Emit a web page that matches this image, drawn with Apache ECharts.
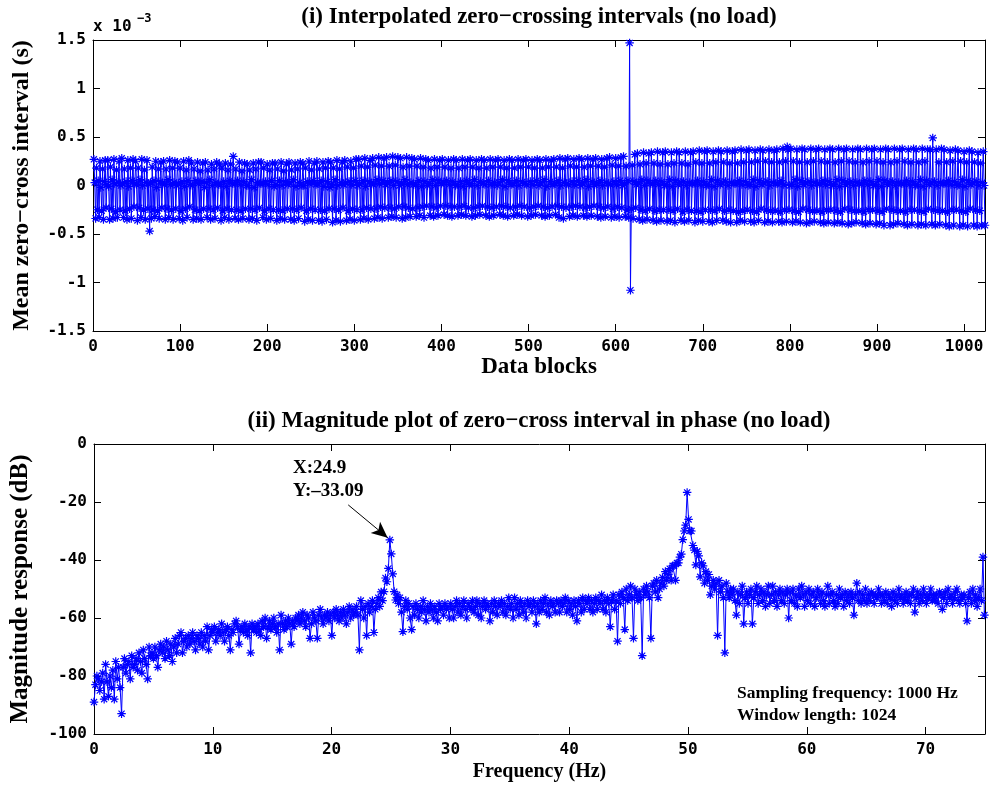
<!DOCTYPE html>
<html><head><meta charset="utf-8">
<script src="https://cdn.jsdelivr.net/npm/echarts@6/dist/echarts.min.js"></script>
<style>html,body{margin:0;padding:0;background:#fff}#c{width:991px;height:787px}</style>
</head><body><div id="c"></div>
<script>
// ---- (i) mean zero-cross interval per data block, in units of 1e-3 s ----
const zeroCrossMs = [
.27,.03,-.34,.18,-.25,.05,-.33,.25,-.02,-.26,.17,-.35,.04,.26,-.23,.01,
.26,-.01,-.35,.19,-.24,.06,-.34,.27,.02,-.27,.16,-.33,.03,.25,-.25,.00,
.28,.02,-.33,.17,-.26,.04,-.35,.26,-.01,-.24,.18,-.34,.05,.27,-.22,.02,
.25,.01,-.36,.18,-.23,.06,-.33,.27,.00,-.25,.16,-.35,.03,.26,-.24,.02,
-.47,.03,-.34,.19,-.25,.05,-.32,.25,-.02,-.26,.17,-.34,.04,.24,-.23,.02,
.25,.01,-.35,.17,-.24,.06,-.33,.26,.01,-.25,.18,-.35,.03,.25,-.24,.00,
.24,.02,-.34,.18,-.26,.04,-.36,.25,-.01,-.24,.16,-.33,.05,.26,-.22,.01,
.23,.00,-.35,.17,-.25,.05,-.34,.24,.02,-.26,.15,-.35,.04,.23,-.24,-.02,
.24,.03,-.33,.16,-.24,.06,-.35,.22,.00,-.25,.17,-.34,.03,.24,-.23,.01,
.22,.01,-.36,.18,-.26,.04,-.33,.23,-.01,-.24,.16,-.35,.05,.22,-.25,.02,
.30,.02,-.34,.17,-.25,.05,-.35,.24,.01,-.26,.15,-.34,.04,.23,-.24,.00,
.22,.00,-.35,.16,-.24,.06,-.34,.23,-.02,-.25,.17,-.36,.03,.24,-.23,.02,
.24,.02,-.33,.18,-.26,.04,-.35,.22,.01,-.24,.16,-.34,.05,.23,-.25,-.01,
.23,.01,-.36,.17,-.25,.05,-.34,.24,.00,-.26,.15,-.35,.04,.22,-.24,.01,
.24,.03,-.35,.16,-.24,.06,-.36,.23,-.01,-.25,.17,-.34,.03,.24,-.23,.00,
.23,.00,-.37,.18,-.26,.04,-.35,.25,.02,-.24,.16,-.36,.05,.23,-.25,.01,
.25,.02,-.36,.17,-.25,.05,-.37,.24,-.01,-.26,.18,-.35,.04,.25,-.24,-.02,
.24,.01,-.38,.18,-.24,.06,-.36,.26,.00,-.25,.17,-.37,.03,.24,-.23,.01,
.26,.03,-.36,.19,-.26,.04,-.35,.25,.01,-.24,.18,-.36,.05,.27,-.25,.00,
.27,.02,-.35,.20,-.25,.05,-.34,.28,-.01,-.23,.19,-.35,.04,.26,-.24,.02,
.28,.01,-.34,.21,-.24,.06,-.33,.29,.02,-.22,.20,-.34,.05,.28,-.23,.01,
.29,.03,-.33,.20,-.23,.05,-.32,.30,.00,-.24,.21,-.33,.04,.29,-.22,.00,
.28,.02,-.34,.19,-.22,.06,-.33,.29,.01,-.23,.20,-.32,.03,.28,-.24,.01,
.27,.01,-.32,.20,-.23,.05,-.31,.28,-.01,-.22,.19,-.33,.04,.27,-.21,.00,
.26,.02,-.31,.18,-.22,.06,-.32,.27,.00,-.23,.19,-.31,.05,.26,-.21,.02,
.27,.03,-.30,.19,-.21,.05,-.31,.26,.01,-.22,.18,-.32,.04,.27,-.22,.00,
.26,.01,-.31,.18,-.22,.04,-.30,.27,-.01,-.21,.19,-.31,.05,.26,-.23,.01,
.27,.02,-.32,.19,-.23,.06,-.31,.26,.00,-.22,.18,-.30,.04,.27,-.21,.02,
.26,.01,-.31,.18,-.22,.05,-.32,.27,.01,-.23,.19,-.31,.03,.26,-.22,.00,
.27,.03,-.30,.19,-.21,.06,-.31,.26,-.01,-.22,.18,-.32,.05,.27,-.23,.01,
.26,.02,-.31,.18,-.22,.05,-.30,.27,.00,-.21,.19,-.31,.04,.26,-.22,.02,
.27,.01,-.32,.19,-.23,.04,-.31,.26,.01,-.22,.18,-.30,.05,.27,-.21,.00,
.26,.03,-.31,.18,-.22,.06,-.32,.27,-.01,-.23,.19,-.31,.04,.26,-.22,.01,
.27,.02,-.30,.19,-.21,.05,-.33,.28,.00,-.22,.18,-.34,.03,.27,-.23,.02,
.28,.01,-.32,.20,-.22,.04,-.31,.27,.01,-.21,.19,-.32,.05,.28,-.22,.00,
.27,.03,-.31,.19,-.23,.06,-.32,.28,-.01,-.22,.20,-.31,.04,.27,-.21,.01,
.28,.02,-.32,.20,-.22,.05,-.33,.27,.00,-.23,.19,-.32,.03,.28,-.22,.02,
.29,.01,-.33,.21,-.24,.04,-.32,.28,.01,-.22,.20,-.33,.05,.29,-.23,.00,
.30,.02,-.32,.20,-.25,.05,-.33,1.47,-1.08,-.24,.21,-.34,.04,.32,-.23,.01,
.33,.03,-.35,.22,-.25,.06,-.36,.34,.00,-.26,.23,-.35,.05,.33,-.24,.02,
.34,.02,-.36,.23,-.26,.05,-.37,.35,.01,-.25,.22,-.36,.04,.34,-.25,.00,
.35,.01,-.37,.22,-.25,.06,-.36,.34,-.01,-.26,.23,-.38,.05,.35,-.24,.01,
.34,.03,-.36,.23,-.27,.04,-.37,.35,.00,-.25,.22,-.36,.03,.34,-.26,.02,
.35,.02,-.38,.24,-.26,.05,-.36,.36,.01,-.27,.23,-.37,.04,.35,-.25,.00,
.36,.01,-.37,.23,-.25,.06,-.38,.35,-.01,-.26,.24,-.36,.05,.36,-.24,.01,
.35,.03,-.36,.24,-.26,.04,-.37,.36,.00,-.25,.23,-.38,.03,.35,-.26,.02,
.36,.02,-.38,.23,-.27,.05,-.36,.37,.01,-.26,.24,-.37,.04,.36,-.25,.00,
.37,.01,-.37,.24,-.26,.06,-.38,.36,-.01,-.27,.25,-.36,.05,.37,-.24,.01,
.36,.03,-.38,.25,-.25,.04,-.37,.37,.00,-.26,.24,-.38,.03,.36,-.26,.02,
.37,.02,-.37,.24,-.27,.05,-.38,.38,.01,-.25,.25,-.37,.40,.37,-.25,.00,
.38,.01,-.38,.25,-.26,.06,-.37,.37,-.01,-.27,.24,-.38,.05,.38,-.24,.01,
.37,.03,-.39,.24,-.25,.04,-.38,.38,.00,-.26,.25,-.37,.03,.37,-.26,.02,
.38,.02,-.38,.25,-.27,.05,-.39,.37,.01,-.25,.24,-.38,.04,.38,-.25,.00,
.37,.01,-.39,.24,-.26,.06,-.38,.38,-.01,-.27,.25,-.39,.05,.37,-.24,.01,
.38,.03,-.40,.25,-.25,.04,-.39,.37,.00,-.26,.24,-.38,.03,.38,-.26,.02,
.37,.02,-.39,.24,-.27,.05,-.40,.38,.01,-.25,.25,-.39,.04,.37,-.25,.00,
.38,.01,-.40,.25,-.26,.06,-.39,.37,-.01,-.27,.24,-.41,.05,.38,-.24,.01,
.37,.03,-.41,.24,-.25,.04,-.40,.38,.00,-.26,.25,-.39,.03,.37,-.26,.02,
.38,.02,-.40,.25,-.27,.05,-.41,.37,.01,-.25,.24,-.40,.04,.38,-.25,.00,
.37,.01,-.41,.24,-.26,.06,-.40,.38,-.01,-.27,.25,-.41,.05,.37,-.24,.01,
.37,.03,-.40,.49,-.25,.04,-.41,.37,.00,-.26,.24,-.40,.03,.38,-.26,.02,
.37,.02,-.41,.24,-.27,.05,-.42,.36,.01,-.25,.25,-.41,.04,.37,-.25,.00,
.36,.01,-.42,.25,-.26,.06,-.41,.35,-.01,-.27,.24,-.42,.05,.36,-.24,.01,
.35,.03,-.41,.24,-.25,.04,-.42,.34,.00,-.26,.23,-.41,.03,.35,.00,-.41
];

// ---- (ii) magnitude spectrum (dB), bins of fs/nfft Hz starting at 0 ----
const fs = 1000;
const nfft = 8192;
const windowLength = 1024;
const peakIndex = 204;
const magnitudeDb = [
-89,-83,-80,-81,-85,-82,-79,-88,-76,-82,-87,-80,-84,-78,-88,-75,-81,-77,-84,-93,
-77,-74,-79,-76,-75,-81,-73,-77,-76,-74,-78,-72,-75,-79,-71,-74,-76,-81,-70,-73,
-72,-74,-70,-73,-77,-71,-69,-72,-70,-74,-68,-71,-73,-69,-75,-70,-67,-72,-69,-66,
-65,-72,-68,-67,-70,-66,-69,-67,-65,-68,-71,-66,-67,-69,-65,-70,-66,-68,-63,-71,
-66,-64,-65,-63,-68,-65,-64,-66,-62,-65,-68,-64,-63,-66,-71,-64,-65,-62,-61,-63,
-69,-64,-63,-65,-62,-64,-66,-63,-72,-62,-64,-63,-65,-62,-64,-66,-61,-63,-60,-67,
-63,-61,-64,-62,-60,-63,-65,-62,-71,-59,-62,-64,-61,-63,-60,-62,-69,-61,-63,-60,
-61,-59,-62,-60,-58,-61,-63,-59,-60,-67,-62,-58,-60,-61,-67,-59,-57,-60,-62,-59,
-60,-58,-61,-59,-66,-58,-60,-57,-59,-61,-58,-60,-57,-59,-62,-58,-56,-60,-57,-59,
-58,-56,-59,-71,-54,-57,-60,-56,-66,-55,-58,-56,-54,-65,-57,-55,-53,-56,-51,-54,
-50.9,-46.2,-47.5,-42.9,-33.09,-37.9,-44.8,-50.9,-53.8,-52,-55,-53,-58,-64.7,-56,-54,-57,-55,-60,-64,
-56,-59,-55,-57,-60,-56,-58,-54,-57,-61,-56,-58,-55,-57,-60,-56,-58,-61,-55,-57,
-56,-59,-55,-57,-56,-60,-55,-57,-60,-56,-54,-58,-55,-59,-56,-54,-57,-60,-55,-56,
-57,-54,-58,-56,-54,-59,-55,-60,-56,-54,-57,-55,-56,-61,-55,-58,-54,-56,-59,-55,
-56,-54,-58,-55,-59,-56,-53,-57,-55,-60,-53,-57,-55,-59,-54,-56,-58,-55,-60,-54,
-56,-55,-58,-54,-56,-62,-55,-58,-54,-57,-55,-53,-58,-55,-59,-54,-56,-55,-58,-54,
-55,-58,-54,-56,-55,-53,-58,-54,-57,-55,-59,-54,-56,-61,-54,-55,-58,-53,-57,-54,
-55,-53,-57,-54,-58,-55,-53,-57,-54,-55,-52,-57,-54,-58,-53,-55,-63,-54,-52,-57,
-54,-68,-52,-55,-51,-53,-64,-50,-54,-52,-49,-53,-67,-50,-52,-54,-51,-53,-73,-50,
-52,-49,-51,-53,-67,-49,-48,-51,-47,-53,-50,-48,-46,-49,-44,-47,-45,-43,-47,-42,
-42,-47,-41,-41,-39,-38,-33,-30,-28,-16.7,-26,-29.9,-30,-35,-36.6,-41.7,-37,-38.6,-45.8,-41,
-42,-48,-44,-47,-45,-52,-49,-47,-50,-48,-66,-47,-51,-49,-53,-72,-48,-51,-53,-50,
-52,-50,-54,-59,-51,-55,-52,-49,-62,-53,-51,-55,-52,-50,-62,-53,-51,-49,-55,-52,
-50,-54,-51,-56,-52,-49,-55,-52,-49,-54,-51,-56,-52,-50,-54,-51,-55,-52,-50,-60,
-51,-54,-50,-55,-52,-56,-50,-53,-49,-52,-56,-51,-54,-50,-55,-52,-51,-56,-53,-50,
-52,-55,-51,-54,-56,-52,-49,-55,-52,-51,-54,-56,-52,-55,-50,-53,-52,-56,-51,-54,
-52,-55,-51,-53,-59,-52,-48,-54,-51,-55,-52,-54,-50,-55,-52,-54,-51,-52,-55,-52,
-53,-50,-52,-55,-52,-54,-51,-55,-52,-53,-56,-51,-54,-52,-55,-50,-53,-52,-55,-53,
-51,-54,-52,-55,-52,-50,-58,-53,-51,-55,-52,-54,-50,-52,-55,-53,-52,-50,-54,-52,
-54,-52,-55,-51,-52,-57,-53,-51,-55,-50,-53,-52,-55,-53,-51,-50,-54,-55,-52,-53,
-52,-55,-61,-53,-51,-55,-50,-54,-52,-56,-53,-50,-54,-39,-59
];

const topTitle = '(i) Interpolated zero\u2212crossing intervals (no load)';
const bottomTitle = '(ii) Magnitude plot of zero\u2212cross interval in phase (no load)';

const topData = zeroCrossMs.map((v, i) => [i + 1, v]);
const freqData = magnitudeDb.map((v, i) => [i * fs / nfft, v]);
const peakF = peakIndex * fs / nfft;
const peakV = magnitudeDb[peakIndex];

const chart = echarts.init(document.getElementById('c'), null, {renderer: 'canvas'});
const STAR = 'path://M0,-5L0,5M-5,0L5,0M-3.6,-3.6L3.6,3.6M-3.6,3.6L3.6,-3.6';
const tickFont = {fontFamily: 'DejaVu Sans Mono', fontSize: 16, fontWeight: 'bold', color: '#000'};
const nameFont = {fontFamily: 'Liberation Serif', fontWeight: 'bold', fontSize: 24, color: '#000'};
const lineS = {lineStyle: {color: '#000', width: 1}};

function xAx(grid, max, interval, pos, name, gap, nameSize) {
  const main = pos === 'bottom';
  return {
    gridIndex: grid, type: 'value', min: 0, max: max, interval: interval, position: pos,
    axisLine: {onZero: false, ...lineS},
    axisTick: {inside: true, length: 7, lineStyle: {color: '#000'}},
    axisLabel: main ? {...tickFont, margin: 8, showMaxLabel: false, formatter: v => String(v)} : {show: false},
    splitLine: {show: false},
    name: main ? name : '', nameLocation: 'middle', nameGap: gap,
    nameTextStyle: {...nameFont, fontSize: nameSize}
  };
}
function yAx(grid, min, max, interval, pos, name, gap, nameSize) {
  const main = pos === 'left';
  return {
    gridIndex: grid, type: 'value', min: min, max: max, interval: interval, position: pos,
    axisLine: {onZero: false, ...lineS},
    axisTick: {inside: true, length: 7, lineStyle: {color: '#000'}},
    axisLabel: main ? {...tickFont, margin: 7, formatter: v => String(v)} : {show: false},
    splitLine: {show: false},
    name: main ? name : '', nameLocation: 'middle', nameGap: gap,
    nameTextStyle: {...nameFont, fontSize: nameSize || 24}
  };
}

const seriesBase = {
  type: 'line', symbol: STAR, symbolSize: 8.5, showSymbol: true, showAllSymbol: true,
  animation: false, silent: true,
  lineStyle: {color: '#0000ff', width: 1},
  itemStyle: {color: 'rgba(0,0,0,0)', borderColor: '#0000ff', borderWidth: 1.2},
  emphasis: {disabled: true}
};

chart.setOption({
  animation: false,
  backgroundColor: '#fff',
  grid: [
    {left: 93, top: 40, width: 892, height: 291},
    {left: 93, top: 444, width: 892, height: 290}
  ],
  xAxis: [
    xAx(0, 1024, 100, 'bottom', 'Data blocks', 24, 23),
    xAx(0, 1024, 100, 'top', '', 0, 23),
    xAx(1, 75, 10, 'bottom', 'Frequency (Hz)', 28, 20),
    xAx(1, 75, 10, 'top', '', 0, 20)
  ],
  yAxis: [
    yAx(0, -1.5, 1.5, 0.5, 'left', 'Mean zero\u2212cross interval (s)', 59, 24),
    yAx(0, -1.5, 1.5, 0.5, 'right', '', 0),
    yAx(1, -100, 0, 20, 'left', 'Magnitude response (dB)', 61, 25),
    yAx(1, -100, 0, 20, 'right', '', 0)
  ],
  series: [
    {...seriesBase, xAxisIndex: 0, yAxisIndex: 0, data: topData},
    {...seriesBase, xAxisIndex: 2, yAxisIndex: 2, data: freqData,
      markLine: {
        silent: true, animation: false, symbol: ['none', 'arrow'], symbolSize: [11, 16],
        lineStyle: {color: '#000', width: 1, type: 'solid'}, label: {show: false},
        emphasis: {disabled: true},
        data: [[{coord: [21.4, -21]}, {coord: [24.72, -32.3]}]]
      }
    }
  ],
  graphic: [
    {type: 'text', x: 539, y: 17, style: {text: topTitle, fontFamily: 'Liberation Serif', fontWeight: 'bold', fontSize: 23, fill: '#000', align: 'center', verticalAlign: 'middle'}},
    {type: 'text', x: 539, y: 421, style: {text: bottomTitle, fontFamily: 'Liberation Serif', fontWeight: 'bold', fontSize: 23, fill: '#000', align: 'center', verticalAlign: 'middle'}},
    {type: 'text', x: 93, y: 35, style: {text: 'x 10', fontFamily: 'DejaVu Sans Mono', fontWeight: 'bold', fontSize: 16, fill: '#000', align: 'left', verticalAlign: 'bottom'}},
    {type: 'text', x: 137, y: 25, style: {text: '\u22123', fontFamily: 'DejaVu Sans Mono', fontWeight: 'bold', fontSize: 12, fill: '#000', align: 'left', verticalAlign: 'bottom'}},
    {type: 'text', x: 293, y: 468, style: {text: 'X:' + peakF.toFixed(1), fontFamily: 'Liberation Serif', fontWeight: 'bold', fontSize: 19, fill: '#000', align: 'left', verticalAlign: 'middle'}},
    {type: 'text', x: 293, y: 491, style: {text: 'Y:' + peakV.toFixed(2).replace('-', '\u2013'), fontFamily: 'Liberation Serif', fontWeight: 'bold', fontSize: 19, fill: '#000', align: 'left', verticalAlign: 'middle'}},
    {type: 'text', x: 737, y: 693, style: {text: 'Sampling frequency: ' + fs + ' Hz', fontFamily: 'Liberation Serif', fontWeight: 'bold', fontSize: 17.5, fill: '#000', align: 'left', verticalAlign: 'middle'}},
    {type: 'text', x: 737, y: 715, style: {text: 'Window length: ' + windowLength, fontFamily: 'Liberation Serif', fontWeight: 'bold', fontSize: 17.5, fill: '#000', align: 'left', verticalAlign: 'middle'}}
  ]
});
</script>
</body></html>
